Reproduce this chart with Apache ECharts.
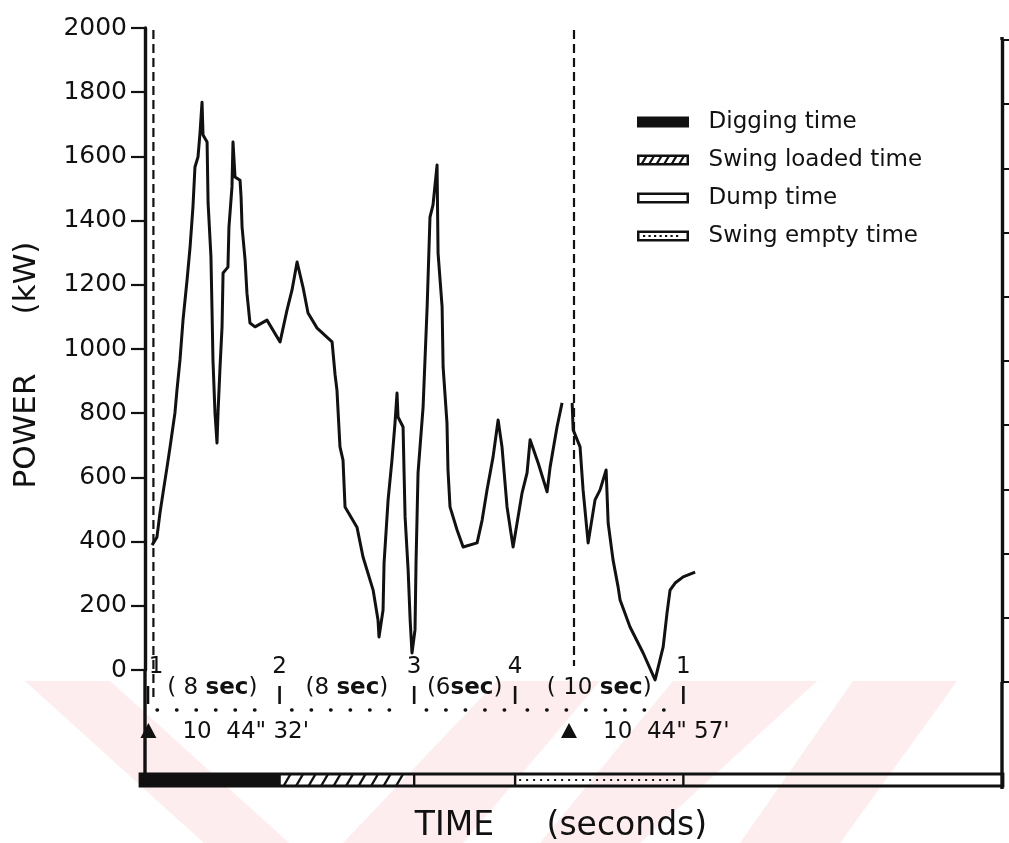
<!DOCTYPE html>
<html>
<head>
<meta charset="utf-8">
<title>Power vs time over one digging cycle</title>
<script src="https://cdn.jsdelivr.net/npm/echarts@6/dist/echarts.min.js"></script>
<style>
  html, body { margin: 0; padding: 0; background: #fff; }
  #chart { width: 1009px; height: 843px; }
</style>
</head>
<body>
<div id="chart"></div>
<script>
// ---- data -------------------------------------------------------------
// power trace: time in seconds from the start of the cycle, power in kW
// (null marks the break in the trace at the start of the next cycle)
const powerTime = [
  0.42, 0.71, 0.89, 1.07, 1.31, 1.49, 1.66, 1.78, 1.90, 2.08,
  2.26, 2.50, 2.68, 2.85, 2.97, 3.15, 3.27, 3.39, 3.45, 3.69,
  3.75, 3.92, 3.98, 4.04, 4.16, 4.28, 4.34, 4.46, 4.58, 4.64,
  4.93, 4.99, 5.17, 5.23, 5.35, 5.65, 5.71, 5.77, 5.95, 6.06,
  6.24, 6.54, 7.25, 8.03, 8.44, 8.74, 9.04, 9.39, 9.69, 10.23,
  11.12, 11.30, 11.41, 11.59, 11.77, 11.89, 12.60, 12.96, 13.56, 13.85,
  13.91, 14.15, 14.21, 14.45, 14.68, 14.86, 14.98, 15.04, 15.34, 15.40,
  15.46, 15.64, 15.76, 15.87, 16.05, 16.11, 16.23, 16.53, 16.77, 16.94,
  17.12, 17.36, 17.42, 17.66, 17.72, 17.95, 18.01, 18.13, 18.55, 18.91,
  19.74, 20.04, 20.33, 20.69, 20.99, 21.22, 21.52, 21.88, 22.41, 22.71,
  22.89, 23.37, 23.90, 24.08, 24.49, 24.79,
  25.10,
  25.39, 25.45, 25.86, 26.04, 26.34, 26.75, 27.05, 27.41, 27.53, 27.82,
  28.12, 28.24, 28.83, 29.61, 30.32, 30.80, 31.03, 31.21, 31.51, 31.99, 32.70
];
const powerKW = [
  389, 414, 489, 551, 632, 695, 757, 801, 872, 966,
  1090, 1215, 1318, 1442, 1567, 1598, 1673, 1769, 1667, 1645,
  1455, 1287, 1131, 966, 801, 707, 801, 944, 1069, 1237,
  1255, 1380, 1505, 1645, 1536, 1526, 1474, 1380, 1277, 1174,
  1081, 1069, 1090, 1022, 1121, 1184, 1271, 1193, 1112, 1065,
  1022, 919, 872, 695, 654, 508, 445, 352, 249, 156,
  103, 187, 333, 530, 654, 769, 863, 788, 757, 614,
  477, 312, 156, 53, 125, 333, 614, 819, 1131, 1411,
  1449, 1573, 1299, 1131, 944, 769, 623, 508, 436, 383,
  396, 467, 561, 664, 779, 695, 508, 383, 551, 614,
  717, 645, 555, 632, 757, 832,
  null,
  832, 748, 695, 561, 396, 530, 561, 623, 458, 343,
  259, 218, 134, 53, -31, 72, 178, 249, 271, 290, 305
];

// power axis
const powerMin = 0;
const powerMax = 2000;
const powerStep = 200;
const timeMax = 51;

// cycle phases and their durations (seconds)
const phaseNames = ['Digging time', 'Swing loaded time', 'Dump time', 'Swing empty time'];
const phaseSeconds = [8, 8, 6, 10];
const durationLabels = ['( 8 sec)', '(8 sec)', '(6sec)', '( 10 sec)'];

// numbered cycle points
const cycleLabels = ['1', '2', '3', '4', '1'];

// clock readings of the two cycle starts
const clockTimes = [0.5, 25.5];
const clockLabels = ['10  44" 32\'', '10  44" 57\''];

// axis titles
const powerTitle = 'POWER      (kW)';
const timeTitle = 'TIME     (seconds)';

// ---- derived ----------------------------------------------------------
const phaseStart = [];
const cycleTimes = [0];
phaseSeconds.forEach((d, i) => {
  phaseStart.push(cycleTimes[i]);
  cycleTimes.push(cycleTimes[i] + d);
});
const powerData = powerTime.map((t, i) => [t, powerKW[i]]);

// ---- styling ----------------------------------------------------------
const FONT = '"DejaVu Sans", "Liberation Sans", sans-serif';
const INK = '#111111';
const PINK = '#fdedef';
const phaseKinds = ['solid', 'hatch', 'plain', 'dotted'];

// legend swatches drawn as paths (outer ring with a hole, plus fill marks)
const ring = 'M0,0L52,0L52,11L0,11Z M2.5,2.5L2.5,8.5L49.5,8.5L49.5,2.5Z';
let hatch = '';
for (let x = 4; x <= 42; x += 7.5) {
  hatch += ' M' + x + ',8.5L' + (x + 2.6) + ',8.5L' + (x + 6.2) + ',2.5L' + (x + 3.6) + ',2.5Z';
}
let dots = '';
for (let x = 6; x <= 44; x += 5.5) {
  dots += ' M' + x + ',4.6L' + (x + 2.2) + ',4.6L' + (x + 2.2) + ',6.6L' + x + ',6.6Z';
}
const legendIcons = [
  'path://M0,0L52,0L52,11L0,11Z',
  'path://' + ring + hatch,
  'path://' + ring,
  'path://' + ring + dots
];

// ---- render helpers ---------------------------------------------------
function phaseRenderer(kind) {
  return function (params, api) {
    const cs = params.coordSys;
    const t0 = api.value(0);
    let x0 = api.coord([t0, 0])[0];
    const x1 = api.coord([api.value(1), 0])[0];
    if (t0 === 0) x0 = cs.x - 5;
    const y0 = cs.y, h = cs.height;
    const kids = [];
    if (kind === 'solid') {
      kids.push({ type: 'rect', shape: { x: x0, y: y0, width: x1 - x0, height: h }, style: { fill: INK } });
    } else if (kind === 'hatch') {
      for (let x = x0 + 4; x + 7 < x1; x += 12.5) {
        kids.push({ type: 'line', shape: { x1: x, y1: y0 + h, x2: x + 7, y2: y0 },
          style: { stroke: INK, lineWidth: 2.4 } });
      }
    } else if (kind === 'dotted') {
      kids.push({ type: 'line', shape: { x1: x0 + 4, y1: y0 + h / 2, x2: x1 - 4, y2: y0 + h / 2 },
        style: { stroke: INK, lineWidth: 2.2, lineDash: [2, 5] } });
    }
    kids.push({ type: 'line', shape: { x1: x1, y1: y0, x2: x1, y2: y0 + h },
      style: { stroke: INK, lineWidth: 2.4 } });
    return { type: 'group', children: kids };
  };
}

function stripFrame(params, api) {
  const cs = params.coordSys;
  return {
    type: 'rect',
    shape: { x: cs.x - 5, y: cs.y, width: cs.width + 5, height: cs.height },
    style: { fill: 'none', stroke: INK, lineWidth: 2.8 }
  };
}

// numbered cycle points with their small ticks
function cyclePointRenderer(params, api) {
  const p = api.coord([api.value(0), 0]);
  const i = api.value(1);
  // the first number sits to the right of the dashed start line
  const lx = i === 0 ? p[0] + 11 : p[0];
  const tx = p[0] + (i === 0 ? 3 : 0);
  return {
    type: 'group',
    children: [
      { type: 'text', style: { text: cycleLabels[i], x: lx, y: p[1] - 3, fill: INK,
          font: '23px ' + FONT, align: 'center', verticalAlign: 'middle' } },
      { type: 'line', shape: { x1: tx, y1: p[1] + 16, x2: tx, y2: p[1] + 34 },
        style: { stroke: INK, lineWidth: 2.6 } }
    ]
  };
}

// duration of each phase, with a dotted guide underneath
function durationRenderer(params, api) {
  const a = api.coord([api.value(0), 0]);
  const b = api.coord([api.value(1), 0]);
  const text = durationLabels[api.value(2)].replace('sec', '{b|sec}');
  return {
    type: 'group',
    children: [
      { type: 'text', style: { text: text, x: (a[0] + b[0]) / 2, y: a[1] + 18, fill: INK,
          font: '23px ' + FONT, align: 'center', verticalAlign: 'middle',
          rich: { b: { fontFamily: FONT, fontSize: 23, fontWeight: 'bold', fill: INK } } } },
      { type: 'line', shape: { x1: a[0] + 12, y1: a[1] + 40, x2: b[0] - 6, y2: a[1] + 40 },
        style: { stroke: INK, lineWidth: 3.4, lineCap: 'round', lineDash: [0.5, 19] } }
    ]
  };
}

// dashed cycle-start lines with the clock reading below
const dashEnds = [28, -4];
function clockRenderer(params, api) {
  const cs = params.coordSys;
  const i = api.value(1);
  const p = api.coord([api.value(0), 0]);
  const cx = p[0] - 5, cy = p[1] + 61;
  return {
    type: 'group',
    children: [
      { type: 'line', shape: { x1: p[0], y1: cs.y + 2, x2: p[0], y2: p[1] + dashEnds[i] },
        style: { stroke: INK, lineWidth: 2.2, lineDash: [9, 5] } },
      { type: 'polygon', shape: { points: [[cx - 8, cy + 7], [cx + 8, cy + 7], [cx, cy - 8]] },
        style: { fill: INK } },
      { type: 'text', style: { text: clockLabels[i], x: cx + 34, y: cy + 1, fill: INK,
          font: '23px ' + FONT, align: 'left', verticalAlign: 'middle' } }
    ]
  };
}

// ---- chart ------------------------------------------------------------
const chart = echarts.init(document.getElementById('chart'), null, { renderer: 'canvas' });

const G = { left: 145, top: 28, width: 858, height: 642 };

const option = {
  animation: false,
  backgroundColor: '#ffffff',
  grid: [
    { left: G.left, top: G.top, width: G.width, height: G.height },
    { left: G.left, top: G.top + 12, width: G.width - 1, height: G.height },
    { left: G.left, top: 774, width: G.width, height: 12 }
  ],
  xAxis: [0, 1, 2].map(i => ({ type: 'value', gridIndex: i, min: 0, max: timeMax, show: false })),
  yAxis: [
    {
      type: 'value', gridIndex: 0, min: powerMin, max: powerMax, interval: powerStep,
      axisLine: { show: true, lineStyle: { color: INK, width: 3.4 } },
      axisTick: { show: true, inside: false, length: 14, lineStyle: { color: INK, width: 2.2 } },
      axisLabel: { show: true, margin: 18, color: INK, fontFamily: FONT, fontSize: 25,
        formatter: v => String(v) },
      splitLine: { show: false }
    },
    {
      type: 'value', gridIndex: 1, position: 'right', min: powerMin, max: powerMax, interval: powerStep,
      axisLine: { show: true, onZero: false, lineStyle: { color: INK, width: 3.4 } },
      axisTick: { show: true, inside: false, length: 9, lineStyle: { color: INK, width: 2 } },
      axisLabel: { show: false },
      splitLine: { show: false }
    },
    { type: 'value', gridIndex: 2, min: 0, max: 1, show: false }
  ],
  legend: {
    orient: 'vertical',
    left: 637, top: 110, padding: 0,
    itemWidth: 52, itemHeight: 11, itemGap: 14,
    selectedMode: false,
    formatter: name => '  ' + name,
    textStyle: { color: INK, fontFamily: FONT, fontSize: 23, lineHeight: 24 },
    data: phaseNames.map((n, i) => ({ name: n, icon: legendIcons[i] }))
  },
  series: [
    {
      name: 'Power', type: 'line', xAxisIndex: 0, yAxisIndex: 0,
      data: powerData, showSymbol: false, symbol: 'none', clip: false,
      connectNulls: false, smooth: false,
      lineStyle: { color: INK, width: 3, join: 'round' }, z: 4
    },
    {
      // keeps the right-hand power scale attached to its grid
      name: 'right scale', type: 'line', xAxisIndex: 1, yAxisIndex: 1,
      data: [], showSymbol: false, silent: true
    },
    ...phaseNames.map((n, i) => ({
      name: n, type: 'custom', xAxisIndex: 2, yAxisIndex: 2,
      itemStyle: { color: INK },
      renderItem: phaseRenderer(phaseKinds[i]),
      data: [[phaseStart[i], phaseStart[i] + phaseSeconds[i]]], z: 3
    })),
    {
      name: 'strip', type: 'custom', xAxisIndex: 2, yAxisIndex: 2,
      renderItem: stripFrame, data: [[0, timeMax]], z: 5
    },
    {
      name: 'cycle points', type: 'custom', xAxisIndex: 0, yAxisIndex: 0, clip: false,
      renderItem: cyclePointRenderer,
      data: cycleTimes.map((t, i) => [t, i]), z: 3
    },
    {
      name: 'durations', type: 'custom', xAxisIndex: 0, yAxisIndex: 0, clip: false,
      renderItem: durationRenderer,
      data: phaseSeconds.map((d, i) => [phaseStart[i], phaseStart[i] + d, i]), z: 3
    },
    {
      name: 'clock', type: 'custom', xAxisIndex: 0, yAxisIndex: 0, clip: false,
      renderItem: clockRenderer,
      data: clockTimes.map((t, i) => [t, i]), z: 3
    }
  ],
  graphic: [
    // faint diagonal bands behind the lower part of the page
    { type: 'polygon', z: -10, shape: { points: [[25, 681], [110, 681], [289, 843], [204, 843]] }, style: { fill: PINK } },
    { type: 'polygon', z: -10, shape: { points: [[343, 843], [463, 843], [600, 681], [497, 681]] }, style: { fill: PINK } },
    { type: 'polygon', z: -10, shape: { points: [[540, 843], [640, 843], [817, 681], [673, 681]] }, style: { fill: PINK } },
    { type: 'polygon', z: -10, shape: { points: [[740, 843], [840, 843], [957, 681], [853, 681]] }, style: { fill: PINK } },
    // axis lines continue down to the phase strip
    { type: 'line', z: 6, shape: { x1: G.left, y1: G.top + G.height, x2: G.left, y2: 787 }, style: { stroke: INK, lineWidth: 3.4 } },
    { type: 'line', z: 6, shape: { x1: G.left + G.width - 1, y1: G.top + 12 + G.height, x2: G.left + G.width - 1, y2: 789 }, style: { stroke: INK, lineWidth: 3.4 } },
    { type: 'line', z: 6, shape: { x1: G.left + G.width - 1, y1: 37, x2: G.left + G.width - 1, y2: G.top + 12 }, style: { stroke: INK, lineWidth: 3.4 } },
    // axis titles
    { type: 'text', z: 6, x: 27, y: 365, rotation: Math.PI / 2,
      style: { text: powerTitle, fill: INK, font: '31px ' + FONT, align: 'center', verticalAlign: 'middle' } },
    { type: 'text', z: 6, x: 561, y: 826,
      style: { text: timeTitle, fill: INK, font: '33px ' + FONT, align: 'center', verticalAlign: 'middle' } }
  ]
};

chart.setOption(option);
</script>
</body>
</html>
